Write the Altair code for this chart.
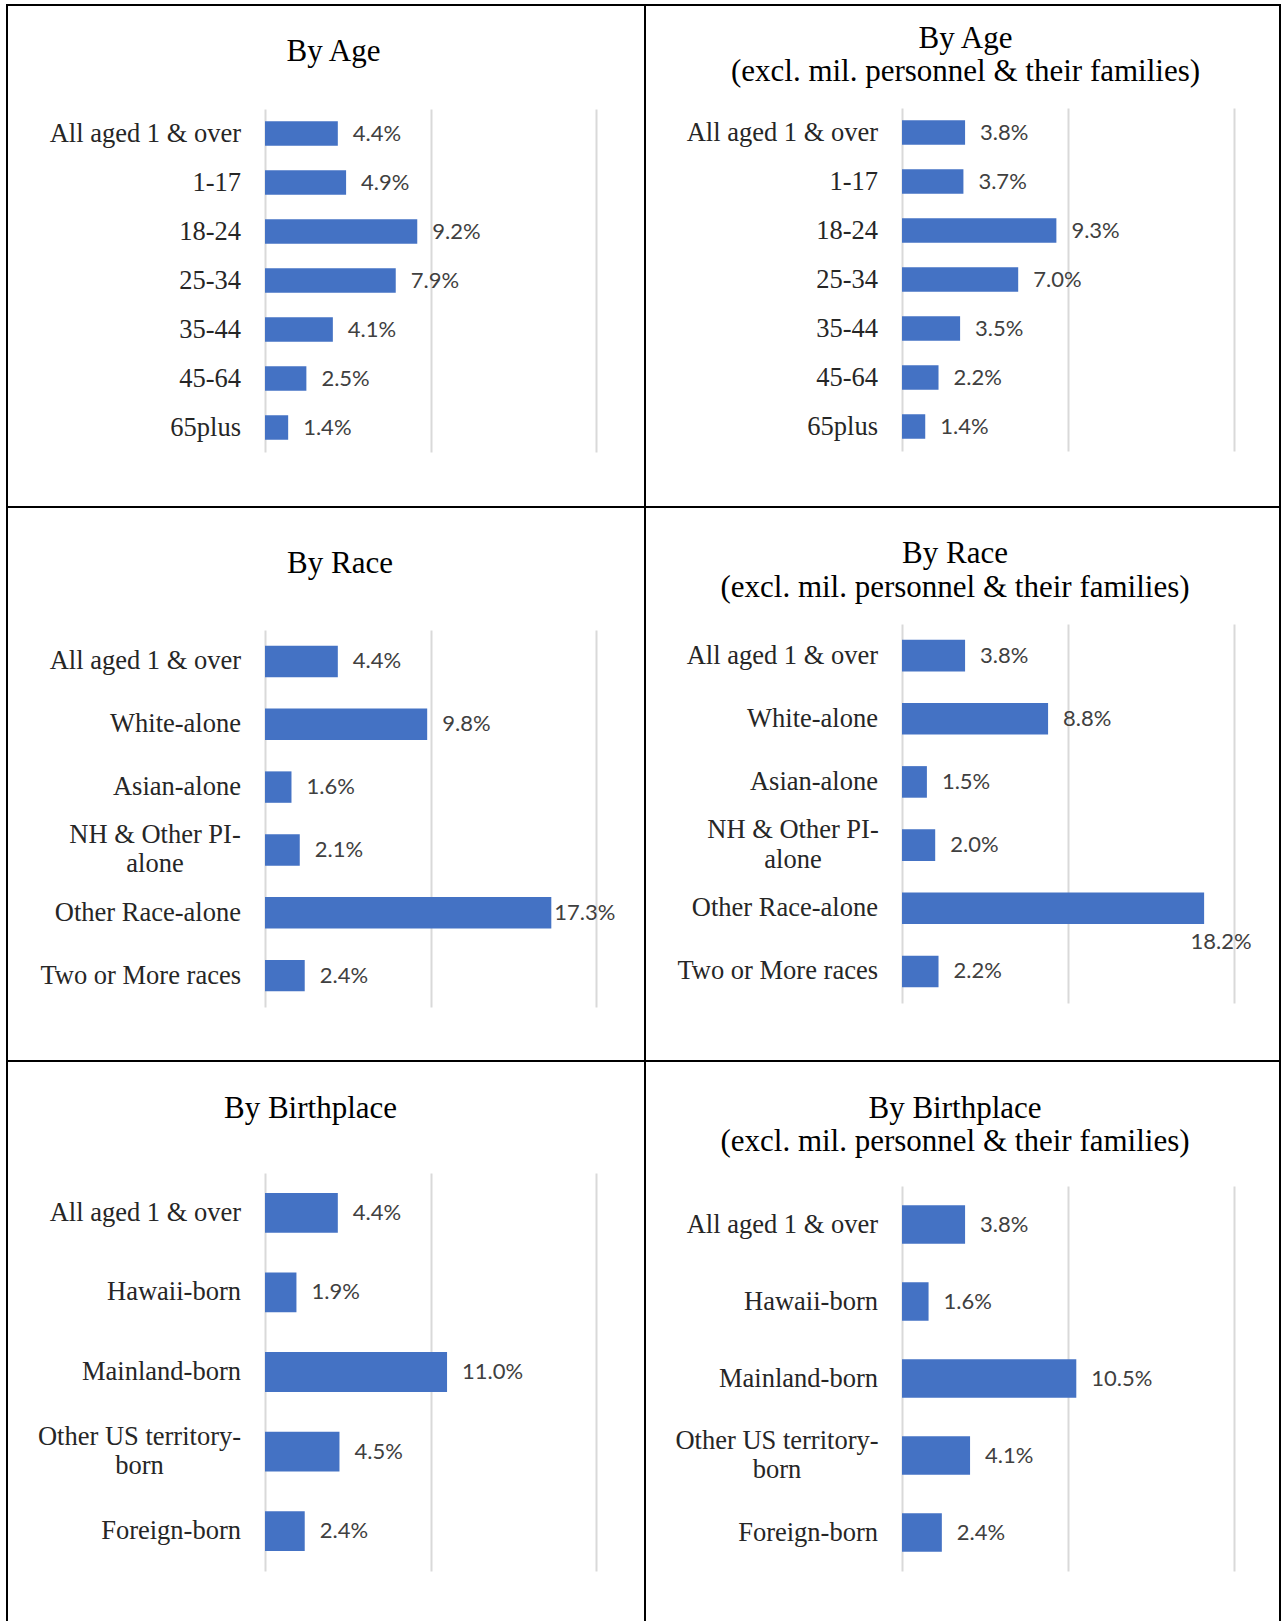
import altair as alt
import pandas as pd

# ---------------- data ----------------
age_cats = ["All aged 1 & over", "1-17", "18-24", "25-34", "35-44", "45-64", "65plus"]
age_all = [4.4, 4.9, 9.2, 7.9, 4.1, 2.5, 1.4]
age_excl = [3.8, 3.7, 9.3, 7.0, 3.5, 2.2, 1.4]

race_cats = ["All aged 1 & over", "White-alone", "Asian-alone", "NH & Other PI-alone",
             "Other Race-alone", "Two or More races"]
race_all = [4.4, 9.8, 1.6, 2.1, 17.3, 2.4]
race_excl = [3.8, 8.8, 1.5, 2.0, 18.2, 2.2]

birth_cats = ["All aged 1 & over", "Hawaii-born", "Mainland-born", "Other US territory-born",
              "Foreign-born"]
birth_all = [4.4, 1.9, 11.0, 4.5, 2.4]
birth_excl = [3.8, 1.6, 10.5, 4.1, 2.4]

grid_values = [0, 10, 20]
excl_line = "(excl. mil. personnel & their families)"
wraps = {"NH & Other PI-alone": ["NH & Other PI-", "alone"],
         "Other US territory-born": ["Other US territory-", "born"]}

# ---------------- style ----------------
BAR = "#4472C4"
GRID = "#d9d9d9"
SERIF = "Liberation Serif"
SANS = "Lato"
AXIS_EXTENT = 31  # space the (label-less) top axis reserves above each view


def panel(cats, vals, title, w, h, x_range, y_range, title_dx, title_y,
          value_overrides=None, wrap_dx=None):
    value_overrides = value_overrides or {}
    wrap_dx = wrap_dx or {}
    df = pd.DataFrame({
        "cat": cats,
        "val": vals,
        "txt": [f"{v:.1f}%" for v in vals],
        "lab": ["|".join(wraps.get(c, [c])) for c in cats],
    })
    base = alt.Chart(df)
    xs = alt.Scale(domain=[0, 20], range=x_range, nice=False, zero=True)
    ys = alt.Scale(domain=cats, range=y_range, paddingInner=0.5, paddingOuter=0.25)
    xax = alt.Axis(values=grid_values, orient="top", labels=False, ticks=False, domain=False,
                   grid=True, gridColor=GRID, gridWidth=2, title=None)
    Y = alt.Y("cat:N", sort=cats, scale=ys, axis=None)
    XV = alt.X("val:Q", scale=xs, axis=xax)
    X0 = alt.X(datum=0, type="quantitative", scale=xs, axis=xax)

    layers = [base.mark_bar(color=BAR).encode(x=XV, y=Y)]

    vkw = dict(align="left", baseline="middle", dx=15, font=SANS, fontSize=22, color="#404040")
    plain_vals = [c for c in cats if c not in value_overrides]
    layers.append(
        base.transform_filter(alt.FieldOneOfPredicate(field="cat", oneOf=plain_vals))
        .mark_text(**vkw).encode(x=XV, y=Y, text="txt:N"))
    for c, opts in value_overrides.items():
        kw = dict(vkw)
        kw.update(opts)
        layers.append(
            base.transform_filter(alt.FieldEqualPredicate(field="cat", equal=c))
            .mark_text(**kw).encode(x=XV, y=Y, text="txt:N"))

    ckw = dict(font=SERIF, fontSize=26.5, color="#262626")
    plain_cats = [c for c in cats if c not in wraps]
    layers.append(
        base.transform_filter(alt.FieldOneOfPredicate(field="cat", oneOf=plain_cats))
        .mark_text(align="right", baseline="middle", dx=-24, **ckw)
        .encode(x=X0, y=Y, text="cat:N"))
    for c in cats:
        if c in wraps:
            layers.append(
                base.transform_filter(alt.FieldEqualPredicate(field="cat", equal=c))
                .transform_calculate(lines="split(datum.lab, '|')")
                .mark_text(align="center", baseline="top", dx=wrap_dx.get(c, -110), dy=-28,
                           lineHeight=29.5, **ckw)
                .encode(x=X0, y=Y, text="lines:N"))

    t = alt.TitleParams(text=title, frame="group", anchor="middle", orient="top",
                        dx=title_dx, offset=-(title_y + AXIS_EXTENT), baseline="bottom",
                        font=SERIF, fontSize=31, fontWeight="normal", color="#000000",
                        lineHeight=33.5)
    return alt.layer(*layers).properties(width=w, height=h, title=t)


LW, RW = 638, 635
H1, H2, H3 = 502, 554, 562
XL = [258, 589]
XR = [257, 589]

p1 = panel(age_cats, age_all, "By Age", LW, H1, XL, [104, 447], 7.5, 63)
p2 = panel(age_cats, age_excl, ["By Age", excl_line], RW, H1, XR, [103, 446], 3, 83)
p3 = panel(race_cats, race_all, "By Race", LW, H2, XL, [123, 500], 14, 72.5,
           value_overrides={"Other Race-alone": {"dx": 3}},
           wrap_dx={"NH & Other PI-alone": -110})
p4 = panel(race_cats, race_excl, ["By Race", excl_line], RW, H2, XR, [117, 496], -7.5, 96.5,
           value_overrides={"Other Race-alone": {"align": "center", "dx": 17, "dy": 34}},
           wrap_dx={"NH & Other PI-alone": -109})
p5 = panel(birth_cats, birth_all, "By Birthplace", LW, H3, XL, [112, 510], -15.5, 64,
           wrap_dx={"Other US territory-born": -125.5})
p6 = panel(birth_cats, birth_excl, ["By Birthplace", excl_line], RW, H3, XR, [125, 510], -7.5, 97,
           wrap_dx={"Other US territory-born": -125})

chart = (
    alt.concat(p1, p2, p3, p4, p5, p6, columns=2, spacing=0, bounds="flush")
    .properties(padding={"left": 6, "top": 4, "right": 0, "bottom": 0}, background="white")
    .configure_view(stroke="black", strokeWidth=2)
)

chart.save("out.html", embed_options={"renderer": "svg", "actions": False})
